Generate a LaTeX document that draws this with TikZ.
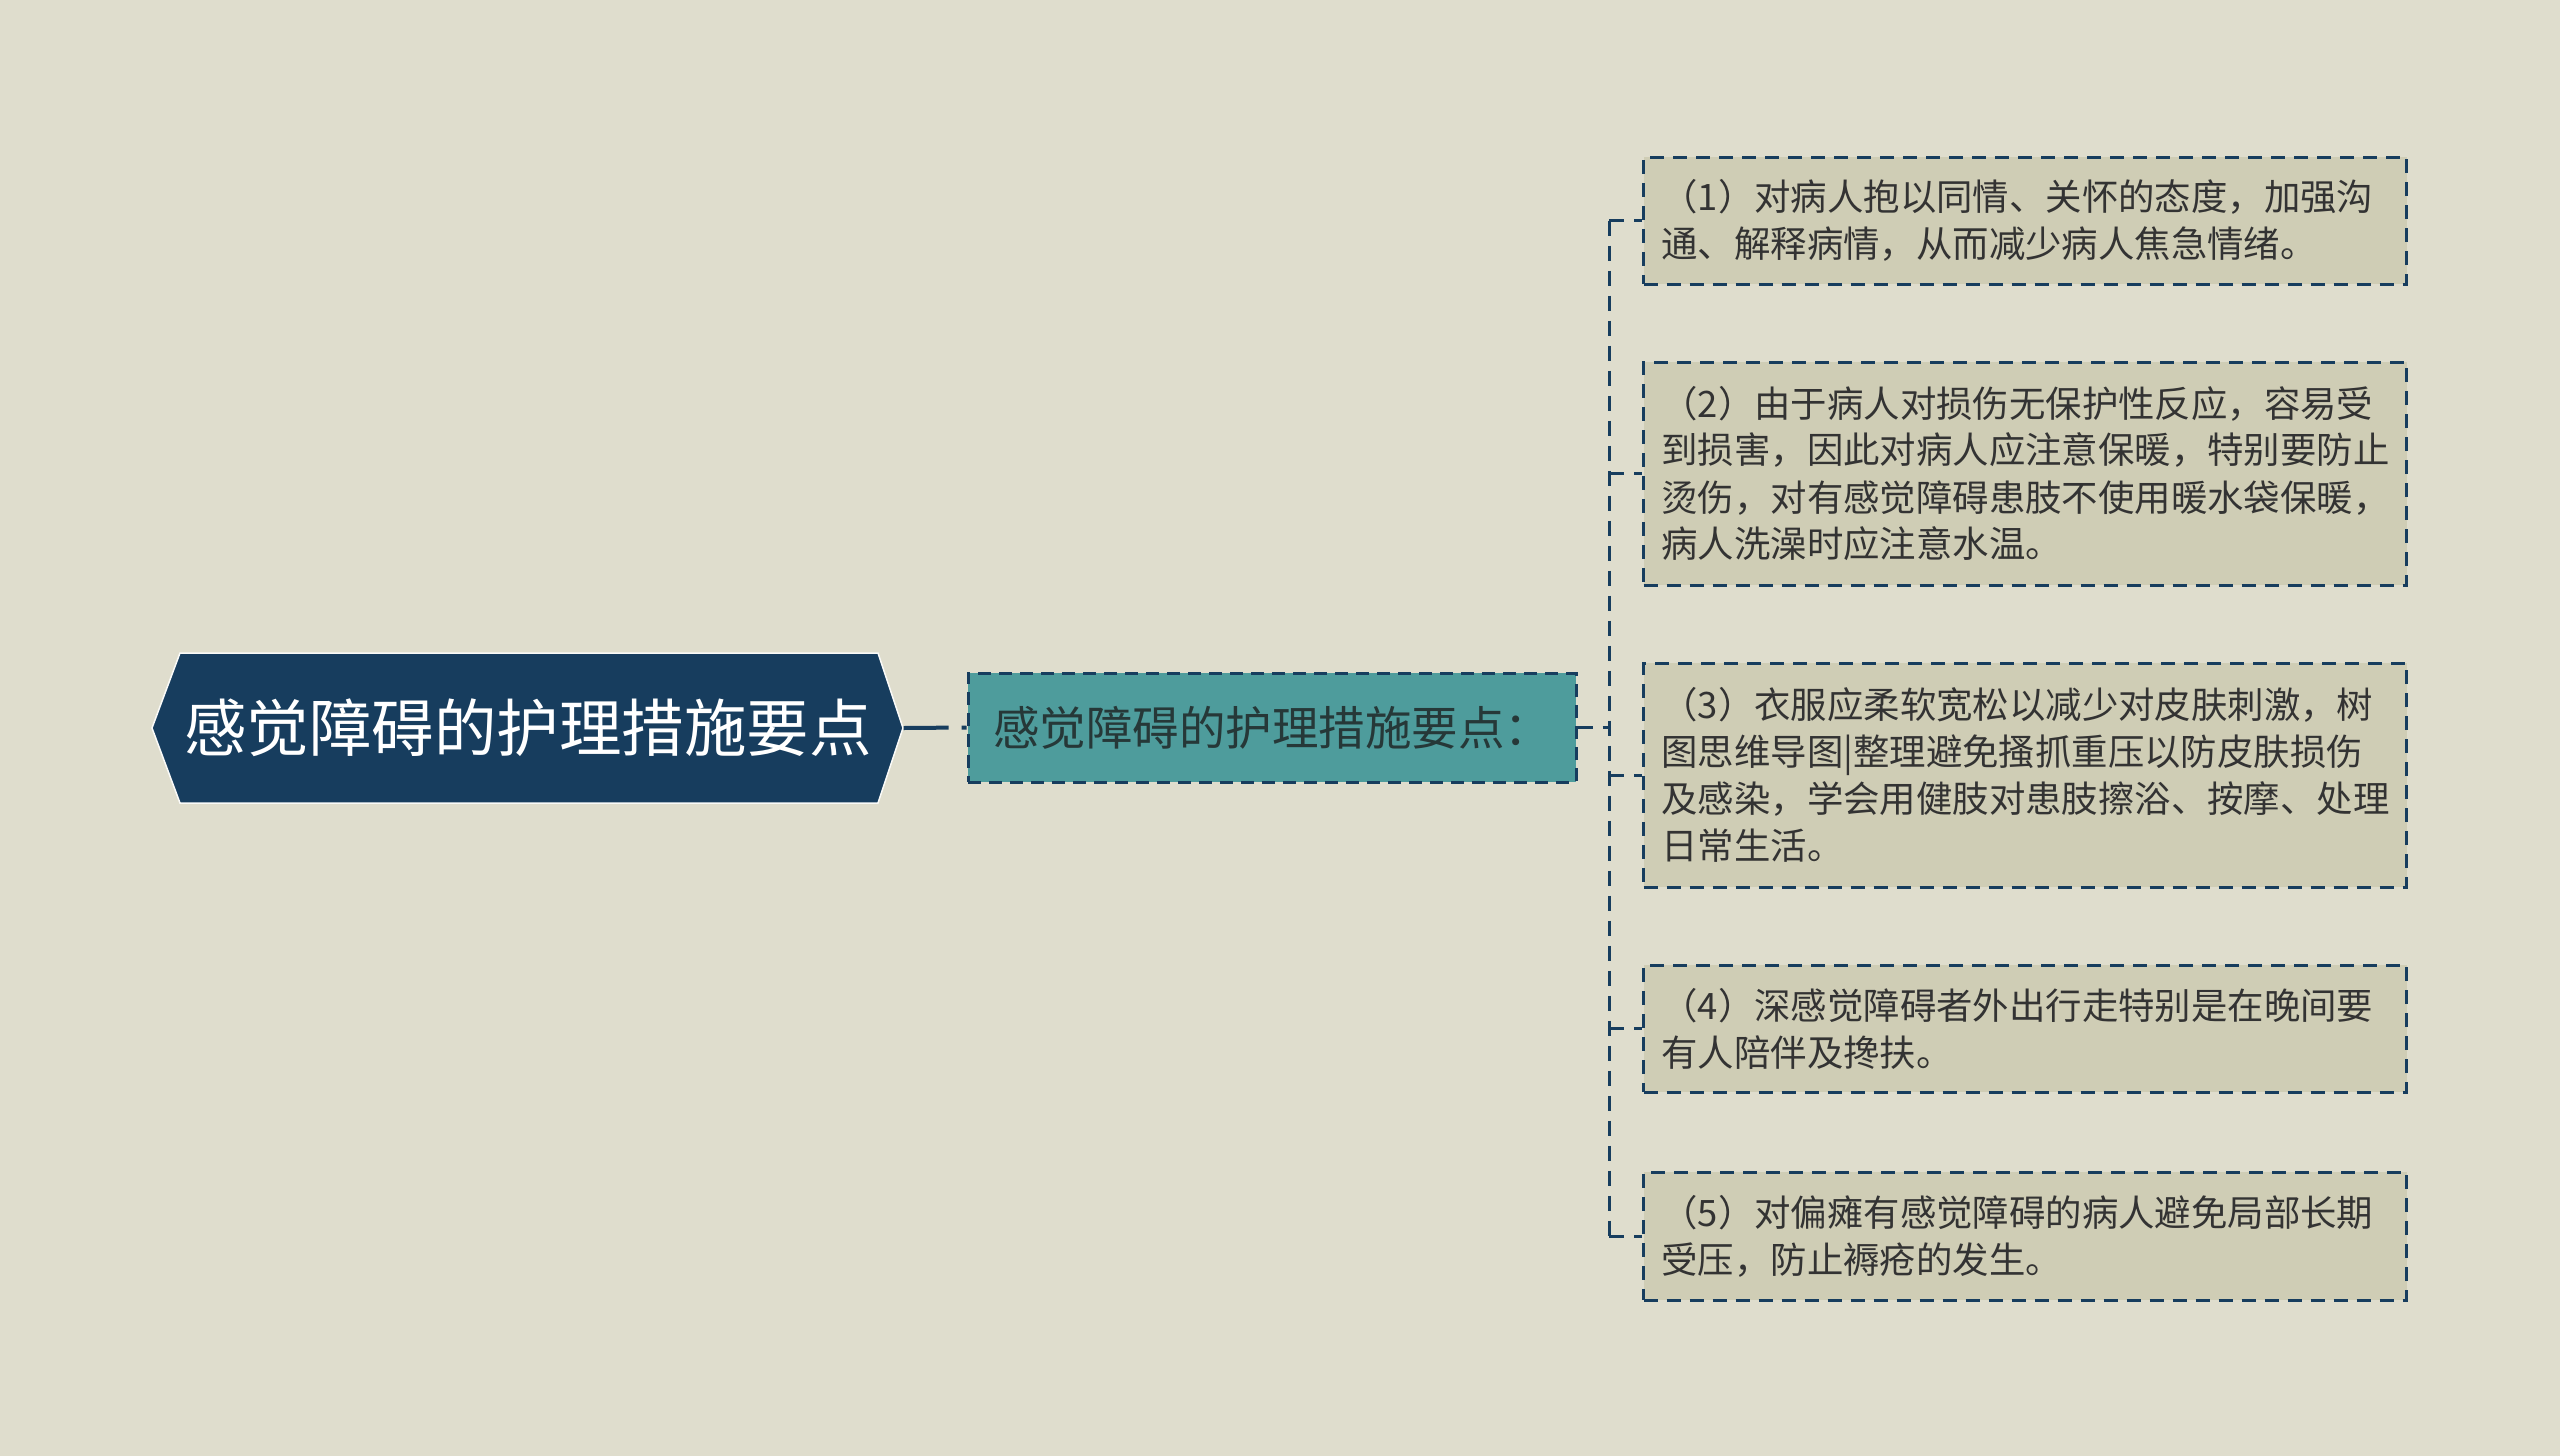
\documentclass[tikz,border=0pt]{standalone}
\usepackage{fontspec}
\setmainfont{Noto Sans CJK SC}
\definecolor{bg}{HTML}{DFDDCD}
\definecolor{navy}{HTML}{173D5E}
\definecolor{tealbox}{HTML}{4E9C9C}
\definecolor{leaffill}{HTML}{CFCDB5}
\definecolor{leaftext}{HTML}{333333}
\definecolor{midtext}{HTML}{263838}
\begin{document}
\begin{tikzpicture}[x=1pt,y=-1pt,
  rootbox/.style={minimum width=751pt, minimum height=150pt, inner sep=0pt,
    text=white, font=\fontsize{62.5}{70}\selectfont},
  midbox/.style={draw=navy, line width=3pt, dash pattern=on 13pt off 8pt,
    fill=tealbox, minimum width=608pt, minimum height=109pt, inner sep=0pt,
    text=midtext, font=\fontsize{46.5}{54}\selectfont},
  leafbox/.style={draw=navy, line width=3pt, dash pattern=on 14pt off 9pt,
    fill=leaffill, minimum width=763pt, inner xsep=18pt, inner ysep=0pt,
    text width=727pt, align=left, anchor=west, text=leaftext,
    font=\fontsize{36.4}{47}\selectfont},
  conn/.style={draw=navy, line width=3pt, dash pattern=on 15pt off 10pt}
]
\fill[bg] (0,0) rectangle (2560,1456);
\useasboundingbox (0,0) rectangle (2560,1456);

% root hexagon
\filldraw[fill=navy, draw=white!85!bg, line width=1.5pt]
  (180,653) -- (878,653) -- (903,728) -- (878,803) -- (180,803) -- (152,728) -- cycle;
\node[rootbox] (root) at (528,728) {感觉障碍的护理措施要点};

% middle node
\node[midbox] (mid) at (1272,727.5) {感觉障碍的护理措施要点：};

% leaves
\node[leafbox, minimum height=127pt] (l1) at (1642,220.5)
  {（1）对病人抱以同情、关怀的态度，加强沟\\通、解释病情，从而减少病人焦急情绪。};
\node[leafbox, minimum height=223pt] (l2) at (1642,473.5)
  {（2）由于病人对损伤无保护性反应，容易受\\到损害，因此对病人应注意保暖，特别要防止\\烫伤，对有感觉障碍患肢不使用暖水袋保暖，\\病人洗澡时应注意水温。};
\node[leafbox, minimum height=224pt] (l3) at (1642,775)
  {（3）衣服应柔软宽松以减少对皮肤刺激，树\\图思维导图|整理避免搔抓重压以防皮肤损伤\\及感染，学会用健肢对患肢擦浴、按摩、处理\\日常生活。};
\node[leafbox, minimum height=127pt] (l4) at (1642,1028.5)
  {（4）深感觉障碍者外出行走特别是在晚间要\\有人陪伴及搀扶。};
\node[leafbox, minimum height=128pt] (l5) at (1642,1236)
  {（5）对偏瘫有感觉障碍的病人避免局部长期\\受压，防止褥疮的发生。};

% connectors
\draw[draw=navy, line width=4pt, dash pattern=on 45pt off 13pt on 7pt off 20pt] (root.east) -- (mid.west);
\coordinate (bus) at (1609,727.5);
\draw[conn] (mid.east) -- (bus);
\draw[conn] (bus |- l1.west) -- (bus |- l5.west);
\foreach \i in {1,...,5}{
  \draw[conn] (bus |- l\i.west) -- (l\i.west);
}
\end{tikzpicture}
\end{document}
